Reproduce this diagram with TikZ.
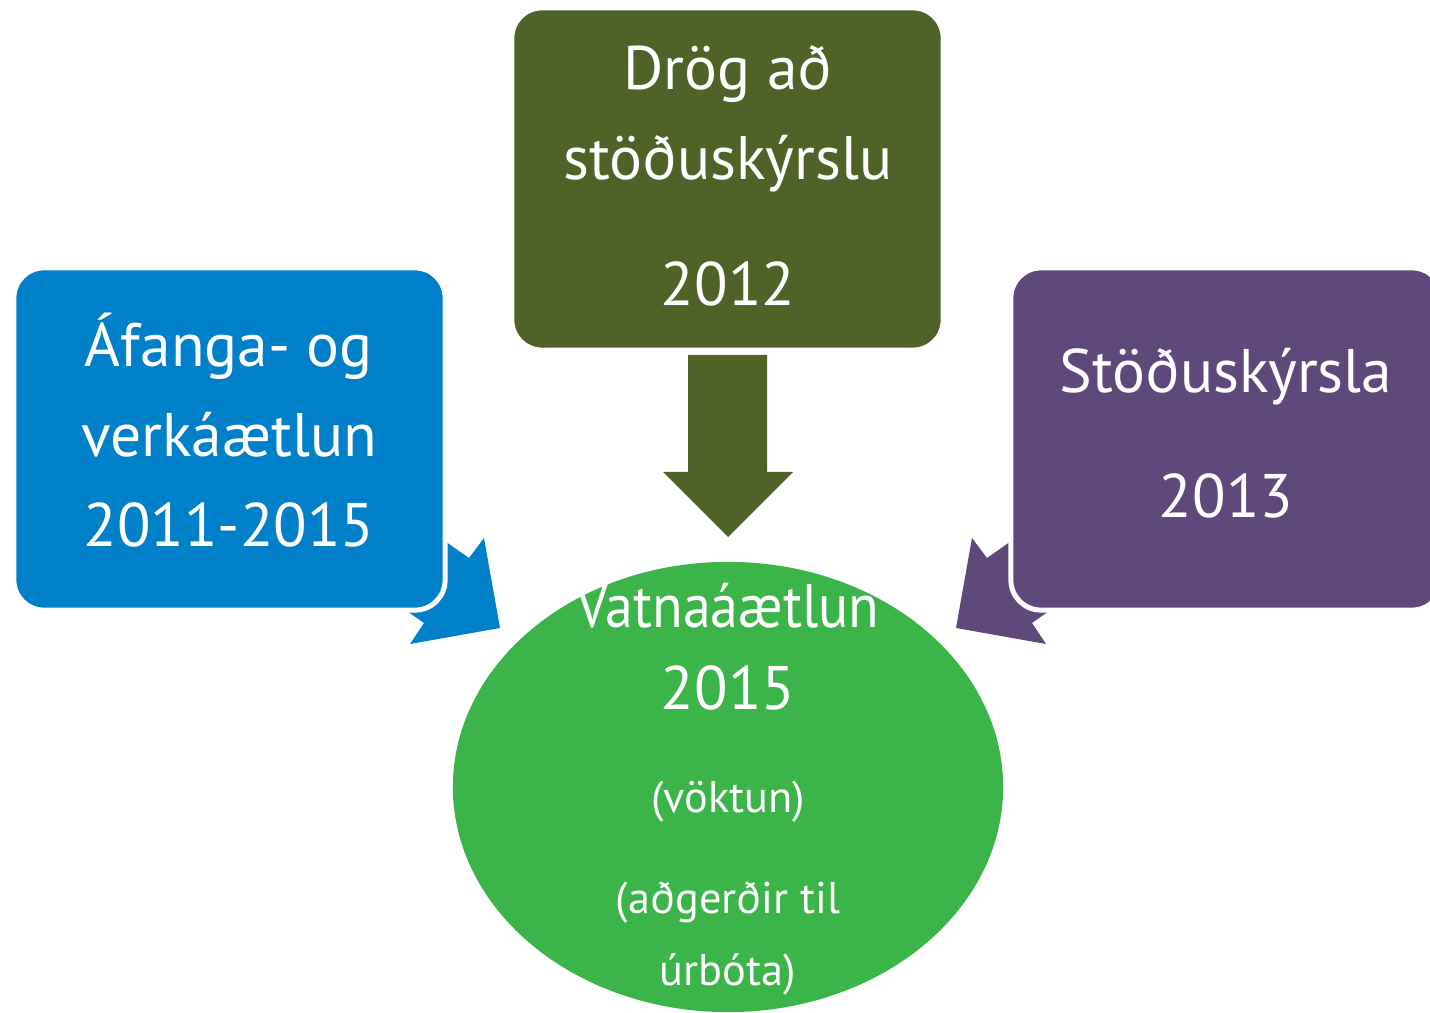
\documentclass[tikz,border=0pt]{standalone}
\usepackage{fontspec}
\setmainfont{PT Sans}
\usepackage{tikz}
\usetikzlibrary{shapes,arrows,positioning}

\definecolor{planblue}{RGB}{0,128,201}
\definecolor{draftolive}{RGB}{79,98,40}
\definecolor{reportpurple}{RGB}{95,73,122}
\definecolor{plangreen}{RGB}{59,181,74}

\begin{document}
\begin{tikzpicture}[x=0.01cm, y=-0.01cm]
			\tikzstyle{Box}		= [rectangle, rounded corners=0.3cm, draw=white, line width=0.05cm, inner sep=0pt, minimum width=4.31cm, minimum height=3.42cm]
			\tikzstyle{Hub}		= [ellipse, fill=plangreen, minimum width=5.5cm, minimum height=4.5cm, inner sep=0pt]
			\tikzstyle{Big}		= [text=white, anchor=base, inner sep=0pt, font=\fontsize{17.5}{21}\selectfont]
			\tikzstyle{Small}	= [text=white, anchor=base, inner sep=0pt, font=\fontsize{12.6}{15}\selectfont]
			
			\useasboundingbox (0,0) rectangle (1430,1013);
			
			% side arrows, drawn first so the boxes cover their shafts
			\fill[planblue] (500,628) -- (410,644) -- (424,623) -- (344,567) -- (389,502) -- (469,558) -- (484,538) -- cycle;
			\fill[reportpurple] (956,628) -- (1046,644) -- (1032,623) -- (1112,567) -- (1067,502) -- (987,558) -- (972,538) -- cycle;
			
			\node (plan) at (229.5,439) [Box, fill=planblue] {};
			\node (draft) at (727.5,179) [Box, fill=draftolive] {};
			\node (report) at (1226.5,439) [Box, fill=reportpurple] {};
			
			\fill[draftolive] (688,355) -- (767,355) -- (767,472) -- (793,472) -- (728,537) -- (663,472) -- (688,472) -- cycle;
			
			\node (water) at (728,787) [Hub] {};
			
			% texts, one node per line, set on their baselines
			\node (plan1) at (229,367) [Big] {\'Afanga- og};
			\node (plan2) at (229,457) [Big] {verk\'a\ae tlun};
			\node (plan3) at (229,547) [Big] {2011-2015};
			
			\node (draft1) at (728,90) [Big] {Dr\"og a\dh};
			\node (draft2) at (728,180) [Big] {st\"o\dh usk\'yrslu};
			\node (draft3) at (728,306) [Big] {2012};
			
			\node (report1) at (1226,393) [Big] {St\"o\dh usk\'yrsla};
			\node (report2) at (1226,518) [Big] {2013};
			
			\node (water1) at (728,628) [Big] {\scalebox{0.91}[1]{Vatna\'a\ae tlun}};
			\node (water2) at (728,710) [Big] {2015};
			\node (water3) at (728,813) [Small] {(v\"oktun)};
			\node (water4) at (728,913) [Small] {(a\dh ger\dh ir til};
			\node (water5) at (728,985) [Small] {\'urb\'ota)};
		\end{tikzpicture}
\end{document}
